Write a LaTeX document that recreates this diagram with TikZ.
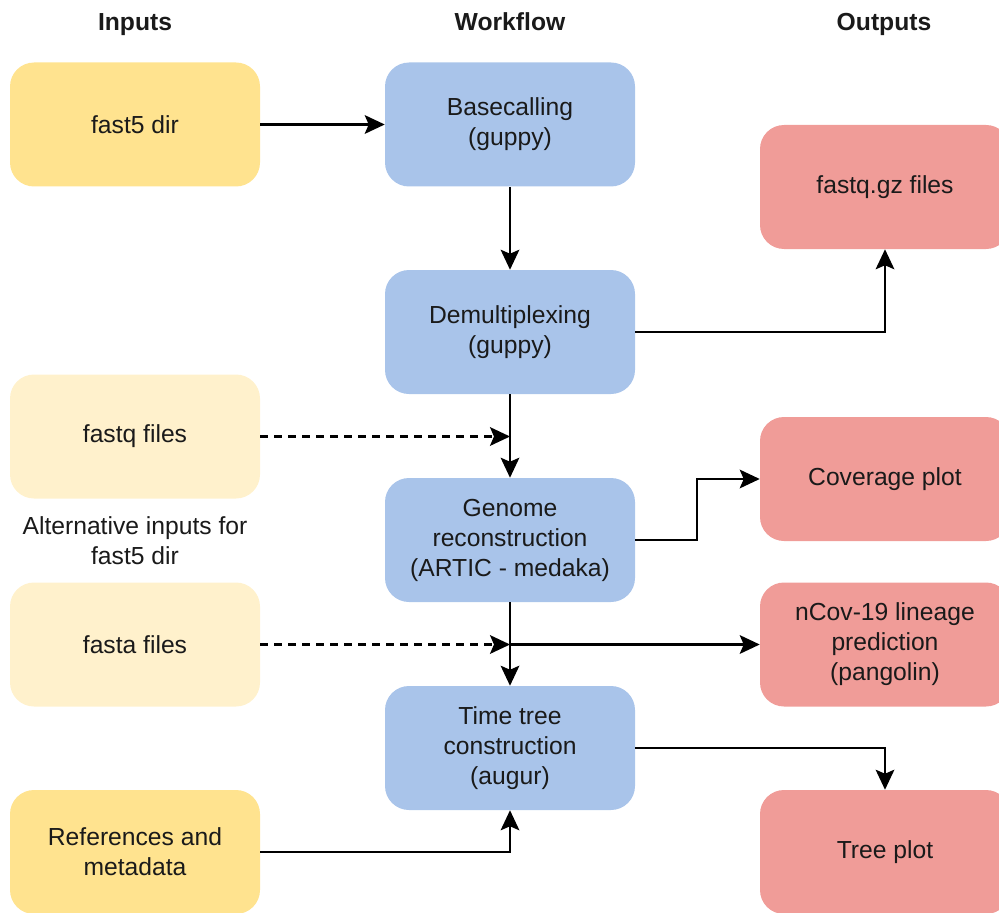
\documentclass[tikz,border=0pt]{standalone}
\usepackage{fontspec}
\setmainfont{Liberation Sans}
\usetikzlibrary{arrows.meta}
\definecolor{inyel}{HTML}{FFE38F}
\definecolor{inlight}{HTML}{FFF1CC}
\definecolor{wfblue}{HTML}{A9C4EA}
\definecolor{outred}{HTML}{F09C98}
\definecolor{txt}{HTML}{1A1A1A}
\tikzset{
  box/.style={rounded corners=18pt, minimum width=187.5pt, minimum height=93pt, align=center, text=txt, font=\fontsize{18.5}{22.5}\selectfont, inner sep=0pt},
  inbox/.style={box, fill=inyel},
  altbox/.style={box, fill=inlight},
  wfbox/.style={box, fill=wfblue},
  outbox/.style={box, fill=outred},
  hdr/.style={font=\fontsize{18.5}{22.5}\selectfont\bfseries, text=txt, anchor=base},
  conn/.style={line width=1.6pt, -{Stealth[length=15pt, width=14pt, inset=3pt]}},
  altconn/.style={conn, dash pattern=on 6pt off 4.5pt}
}
\begin{document}
\begin{tikzpicture}[x=0.75pt, y=-0.75pt]
\useasboundingbox (0,0) rectangle (999,913);
% headers
\node[hdr] (hin) at (135,31) {Inputs};
\node[hdr] (hwf) at (510,31) {Workflow};
\node[hdr] (hout) at (884,31) {Outputs};
% inputs
\node[inbox] (f5) at (135,124.5) {fast5 dir};
\node[altbox] (fq) at (135,436.5) {fastq files};
\node[text=txt, align=center, font=\fontsize{18.5}{22.5}\selectfont] (alt) at (135,541) {Alternative inputs for\\fast5 dir};
\node[altbox] (fa) at (135,644.5) {fasta files};
\node[inbox] (ref) at (135,852) {References and\\metadata};
% workflow
\node[wfbox] (bc) at (510,124.5) {Basecalling\\(guppy)};
\node[wfbox] (dm) at (510,332) {Demultiplexing\\(guppy)};
\node[wfbox] (gr) at (510,540) {Genome\\reconstruction\\(ARTIC - medaka)};
\node[wfbox] (tt) at (510,748) {Time tree\\construction\\(augur)};
% outputs
\node[outbox] (fqgz) at (885,187) {fastq.gz files};
\node[outbox] (cov) at (885,479) {Coverage plot};
\node[outbox] (ncov) at (885,644.5) {nCov-19 lineage\\prediction\\(pangolin)};
\node[outbox] (tree) at (885,852) {Tree plot};
% junctions
\coordinate (j1) at (dm.south |- fq.east);
\coordinate (j2) at (gr.south |- fa.east);
\coordinate (k1) at (697,540);
% connectors
\draw[conn] (f5.east) -- (bc.west);
\draw[conn] (bc.south) -- (dm.north);
\draw[conn] (dm.east) -| (fqgz.south);
\draw[conn] (dm.south) -- (gr.north);
\draw[altconn] (fq.east) -- (j1);
\draw[conn] (gr.east) -- (k1) |- (cov.west);
\draw[conn] (gr.south) -- (tt.north);
\draw[altconn] (fa.east) -- (j2);
\draw[conn] (j2) -- (ncov.west);
\draw[conn] (tt.east) -| (tree.north);
\draw[conn] (ref.east) -| (tt.south);
\end{tikzpicture}
\end{document}
